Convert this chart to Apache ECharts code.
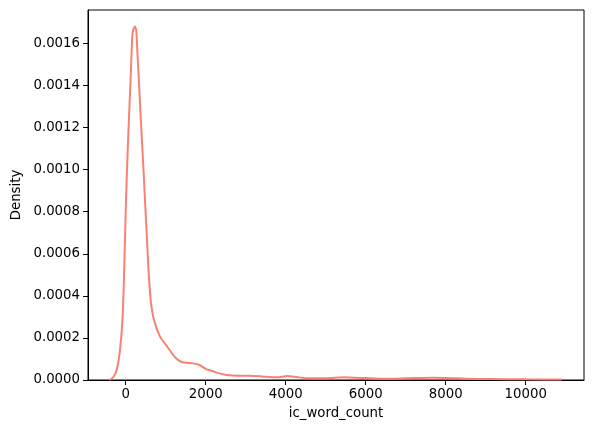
<!DOCTYPE html>
<html>
<head>
<meta charset="utf-8">
<script src="https://cdn.jsdelivr.net/npm/echarts@6/dist/echarts.min.js"></script>
<style>
html,body{margin:0;padding:0;background:#fff;}
#chart{width:594px;height:433px;}
</style>
</head>
<body>
<div id="chart"></div>
<script>
// KDE curve of ic_word_count (x values, density values)
const xValues = [-410, -310, -226, -142, -76, -34, 8, 50, 90, 125, 150, 170, 200, 232, 265, 290, 325, 365, 400, 441, 483, 525, 566, 625, 708, 858, 1041, 1233, 1400, 1691, 1858, 2025, 2190, 2275, 2525, 2800, 3108, 3450, 3775, 4041, 4300, 4608, 5000, 5441, 6000, 6441, 7000, 7691, 8275, 8775, 9108, 10000, 10900];
const densityValues = [0, 0.000013, 0.0000475, 0.000143, 0.0003, 0.00054, 0.000855, 0.00109, 0.00128, 0.00144, 0.001568, 0.001645, 0.00167, 0.00168, 0.00166, 0.001568, 0.00144, 0.00129, 0.00116, 0.001014, 0.000855, 0.000697, 0.00054, 0.00038, 0.000285, 0.000206, 0.000158, 0.000108, 0.0000855, 0.000079, 0.00007, 0.0000507, 0.000042, 0.0000349, 0.0000238, 0.00002, 0.00002, 0.000016, 0.0000127, 0.000019, 0.000013, 0.000008, 0.000008, 0.0000127, 0.000009, 0.000006, 0.000008, 0.000011, 0.000008, 0.000005, 0.0000048, 0.000003, 0.000002];
const xTicks = [0, 2000, 4000, 6000, 8000, 10000];
const yTicks = [0, 0.0002, 0.0004, 0.0006, 0.0008, 0.0010, 0.0012, 0.0014, 0.0016];

const font = 'DejaVu Sans';
const chart = echarts.init(document.getElementById('chart'), null, {renderer: 'canvas'});
chart.setOption({
  animation: false,
  backgroundColor: '#fff',
  grid: {left: 88, right: 10, top: 10, bottom: 53, show: true, borderColor: '#000', borderWidth: 1, backgroundColor: 'transparent'},
  xAxis: {
    type: 'value', min: -942, max: 11457,
    name: 'ic_word_count', nameLocation: 'middle', nameGap: 27,
    nameTextStyle: {fontFamily: font, fontSize: 13.3, color: '#000'},
    axisLine: {show: true, onZero: false, lineStyle: {color: '#000', width: 1}},
    axisTick: {show: true, length: 5, lineStyle: {color: '#000'}, customValues: xTicks},
    axisLabel: {fontFamily: font, fontSize: 13.3, color: '#000', margin: 8, customValues: xTicks, formatter: v => String(v)},
    splitLine: {show: false}
  },
  yAxis: {
    type: 'value', min: 0, max: 0.0017585,
    name: 'Density', nameLocation: 'middle', nameGap: 65,
    nameTextStyle: {fontFamily: font, fontSize: 13.3, color: '#000'},
    axisLine: {show: true, onZero: false, lineStyle: {color: '#000', width: 1}},
    axisTick: {show: true, length: 5, lineStyle: {color: '#000'}, customValues: yTicks},
    axisLabel: {fontFamily: font, fontSize: 13.3, color: '#000', margin: 8, customValues: yTicks, formatter: v => v.toFixed(4)},
    splitLine: {show: false}
  },
  series: [{
    type: 'line',
    data: xValues.map((x, i) => [x, densityValues[i]]),
    showSymbol: false,
    smooth: 0.2,
    lineStyle: {color: '#fa8072', width: 2},
    itemStyle: {color: '#fa8072'}
  }]
});
</script>
</body>
</html>
